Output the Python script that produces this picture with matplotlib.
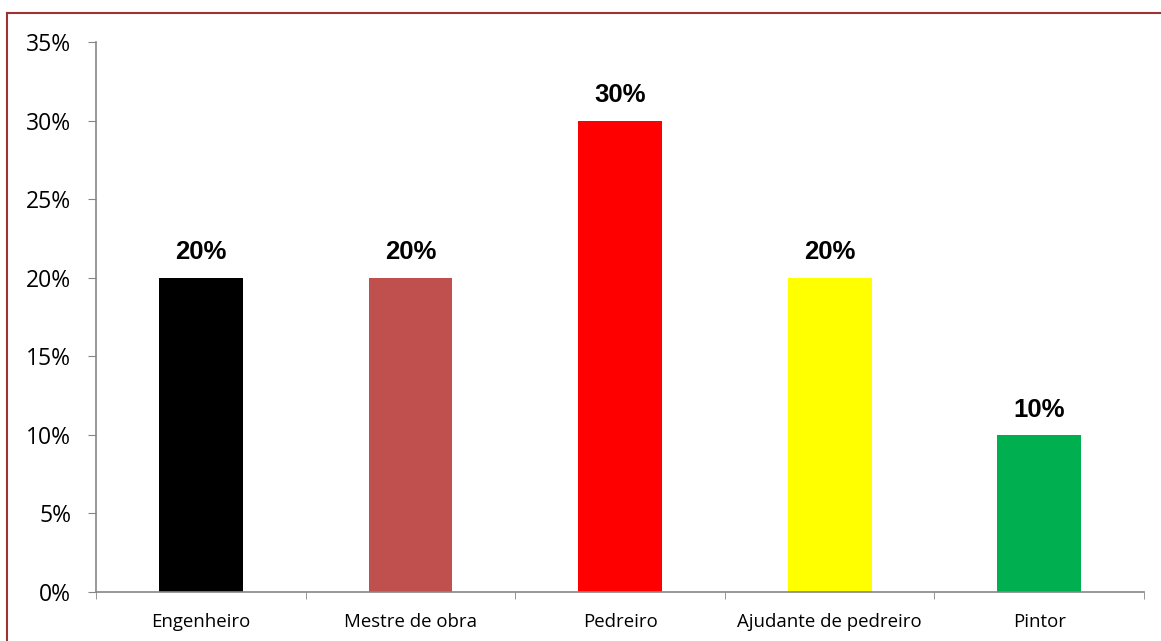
import matplotlib.pyplot as plt
from matplotlib.lines import Line2D
from matplotlib.ticker import FuncFormatter

categorias = ['Engenheiro', 'Mestre de obra', 'Pedreiro', 'Ajudante de pedreiro', 'Pintor']
percentuais = [0.20, 0.20, 0.30, 0.20, 0.10]
cores = ['#000000', '#C0504D', '#FF0000', '#FFFF00', '#00B050']
yticks = [0, 0.05, 0.10, 0.15, 0.20, 0.25, 0.30, 0.35]

fig = plt.figure(figsize=(11.61, 6.41), dpi=100)
ax = fig.add_axes([0.0827, 0.0764, 0.9027, 0.8581])

x = range(len(categorias))
bars = ax.bar(x, percentuais, width=0.40, color=cores, zorder=2)

for bar, v in zip(bars, percentuais):
    ax.text(bar.get_x() + bar.get_width() / 2, v + 0.0085, f'{v:.0%}',
            ha='center', va='bottom', fontsize=18.5, fontweight='bold',
            family='Liberation Sans')

ax.set_xlim(-0.5, len(categorias) - 0.5)
ax.set_ylim(0, 0.35)
ax.set_yticks(yticks)
ax.yaxis.set_major_formatter(FuncFormatter(lambda v, p: f'{v:.0%}'))

# categorias sob as barras, marcas de divisão entre elas
ax.set_xticks(list(x))
ax.set_xticklabels(categorias, fontsize=13.4, family='Open Sans')
ax.set_xticks([i - 0.5 for i in range(len(categorias) + 1)], minor=True)
ax.tick_params(axis='x', which='major', length=0, pad=15)
ax.tick_params(axis='x', which='minor', length=5, color='#868686', direction='out')
ax.tick_params(axis='y', length=6, color='#868686', direction='out', pad=12)
for lbl in ax.get_yticklabels():
    lbl.set_fontsize(16.5)
    lbl.set_family('Open Sans')

for s in ['top', 'right']:
    ax.spines[s].set_visible(False)
for s in ['left', 'bottom']:
    ax.spines[s].set_color('#868686')
    ax.spines[s].set_linewidth(1.2)

# moldura do gráfico (bordas superior e esquerda)
fig.add_artist(Line2D([7 / 1161, 7 / 1161], [0, 1 - 13 / 641],
                      transform=fig.transFigure, color='#9B3333', lw=1.5))
fig.add_artist(Line2D([7 / 1161, 1], [1 - 13 / 641, 1 - 13 / 641],
                      transform=fig.transFigure, color='#9B3333', lw=1.5))

fig.savefig('out.png', dpi=100)
